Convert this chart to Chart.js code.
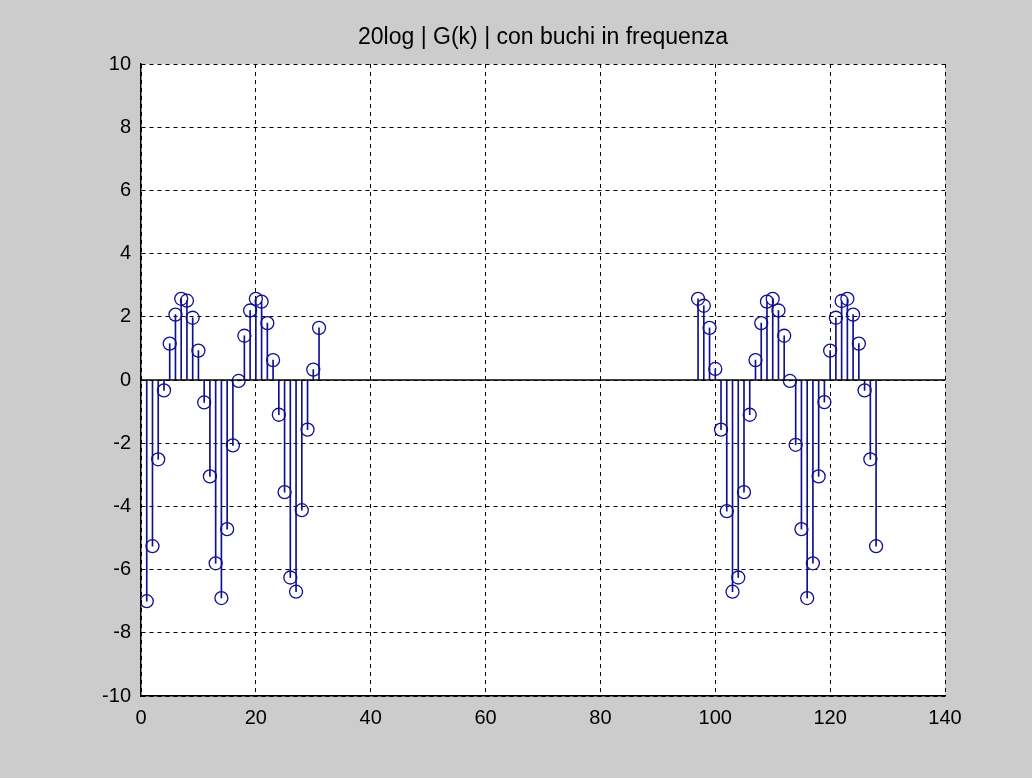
<!DOCTYPE html>
<html>
<head>
<meta charset="utf-8">
<script src="https://cdn.jsdelivr.net/npm/chart.js@4"></script>
<style>
    html, body { margin: 0; padding: 0; background: #cccccc; }
    #wrap { width: 1032px; height: 778px; }
</style>
</head>
<body>
<div id="wrap"><canvas id="stem-chart" width="1032" height="778"></canvas></div>
<script>
// start: data
const titleText = '20log | G(k) | con buchi in frequenza';

const kLeft = [1, 2, 3, 4, 5, 6, 7, 8, 9, 10, 11, 12, 13, 14, 15, 16,
    17, 18, 19, 20, 21, 22, 23, 24, 25, 26, 27, 28, 29, 30, 31];
const gLeft = [-7.0, -5.26, -2.51, -0.33, 1.15, 2.07, 2.57, 2.51, 1.97, 0.93, -0.71, -3.05, -5.8, -6.9, -4.72, -2.07,
    -0.03, 1.4, 2.2, 2.57, 2.48, 1.8, 0.63, -1.1, -3.55, -6.25, -6.7, -4.12, -1.57, 0.33, 1.65];

const kRight = [97, 98, 99, 100, 101, 102, 103, 104, 105, 106, 107, 108, 109, 110, 111, 112,
    113, 114, 115, 116, 117, 118, 119, 120, 121, 122, 123, 124, 125, 126, 127, 128];
const gRight = [2.57, 2.35, 1.65, 0.35, -1.57, -4.15, -6.7, -6.25, -3.55, -1.1, 0.63, 1.8, 2.48, 2.57, 2.2, 1.4,
    -0.03, -2.05, -4.72, -6.9, -5.8, -3.05, -0.7, 0.93, 1.97, 2.5, 2.57, 2.07, 1.15, -0.33, -2.51, -5.26];

const baseX = [0, 140];
const baseY = [0, 0];

const xTicks = [0, 20, 40, 60, 80, 100, 120, 140];
const yTicks = [-10, -8, -6, -4, -2, 0, 2, 4, 6, 8, 10];
// end: data

const stemColor = '#101090';
const fontFamily = '"Liberation Sans", Arial, sans-serif';

const points = kLeft.map((k, i) => ({ x: k, y: gLeft[i] }))
    .concat(kRight.map((k, i) => ({ x: k, y: gRight[i] })));
const baseline = baseX.map((x, i) => ({ x: x, y: baseY[i] }));

// white axes box + title centred over the plot
const matlabLook = {
    id: 'matlabLook',
    beforeDraw(chart) {
        const a = chart.chartArea;
        const ctx = chart.ctx;
        ctx.save();
        ctx.fillStyle = '#ffffff';
        ctx.fillRect(a.left, a.top, a.right - a.left, a.bottom - a.top);
        ctx.restore();
    },
    afterDraw(chart) {
        const a = chart.chartArea;
        const ctx = chart.ctx;
        ctx.save();
        ctx.fillStyle = '#000000';
        ctx.font = '23px ' + fontFamily;
        ctx.textAlign = 'center';
        ctx.textBaseline = 'middle';
        ctx.fillText(titleText, (a.left + a.right) / 2, 38);
        ctx.restore();
    }
};

const stemChart = new Chart(document.getElementById('stem-chart'), {
    data: {
        datasets: [{
            type: 'line',
            data: baseline,
            borderColor: '#000000',
            borderWidth: 1.5,
            pointRadius: 0,
            order: 0
        }, {
            type: 'scatter',
            data: points,
            pointStyle: 'circle',
            pointRadius: 6.5,
            pointBorderWidth: 1.3,
            pointBorderColor: stemColor,
            pointBackgroundColor: 'rgba(0,0,0,0)',
            order: 1
        }, {
            type: 'bar',
            data: points,
            backgroundColor: stemColor,
            barThickness: 1,
            order: 2
        }]
    },
    options: {
        responsive: false,
        animation: false,
        layout: { padding: { left: 0, top: 64, right: 87, bottom: 0 } },
        plugins: {
            legend: { display: false },
            tooltip: { enabled: false }
        },
        scales: {
            x: {
                type: 'linear',
                min: 0,
                max: 140,
                offset: false,
                afterFit: function (scale) { scale.height = 82; },
                afterBuildTicks: function (scale) { scale.ticks = xTicks.map(v => ({ value: v })); },
                grid: {
                    color: '#000000',
                    lineWidth: 1,
                    drawTicks: false,
                    offset: false
                },
                border: { display: true, color: '#000000', width: 1.5, dash: [4, 4] },
                ticks: {
                    color: '#000000',
                    padding: 10,
                    font: { family: fontFamily, size: 20 }
                }
            },
            y: {
                type: 'linear',
                min: -10,
                max: 10,
                afterFit: function (scale) { scale.width = 141; },
                afterBuildTicks: function (scale) { scale.ticks = yTicks.map(v => ({ value: v })); },
                grid: {
                    color: '#000000',
                    lineWidth: 1,
                    drawTicks: false
                },
                border: { display: true, color: '#000000', width: 1.5, dash: [4, 4] },
                ticks: {
                    color: '#000000',
                    padding: 10,
                    font: { family: fontFamily, size: 20 }
                }
            }
        }
    },
    plugins: [matlabLook]
});
</script>
</body>
</html>
